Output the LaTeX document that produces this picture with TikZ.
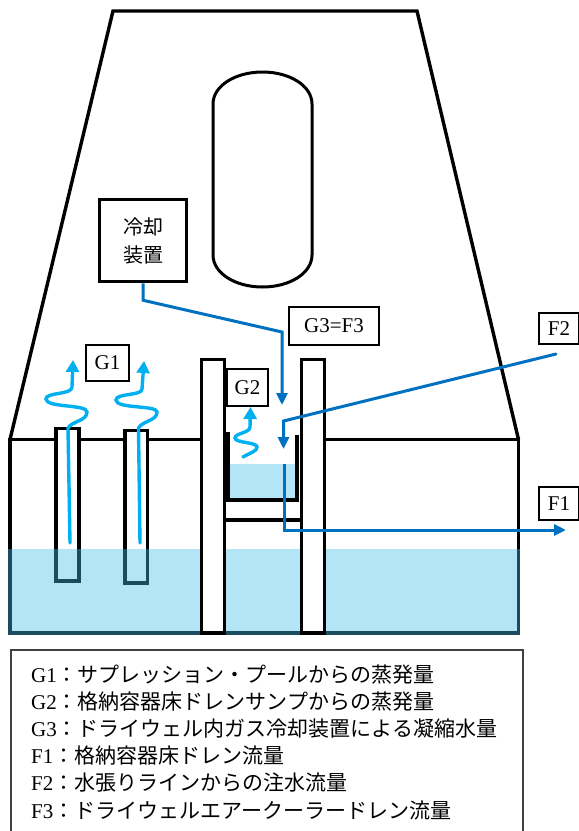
\documentclass[tikz,border=0pt]{standalone}
\usepackage{fontspec}
\setmainfont{Liberation Serif}
\newfontfamily\jp{Noto Sans CJK JP}
\usetikzlibrary{arrows.meta}
\definecolor{pipeblue}{RGB}{0,112,192}
\definecolor{steamblue}{RGB}{0,176,240}
\definecolor{poolblue}{RGB}{65,190,235}

\begin{document}
\begin{tikzpicture}[x=1pt, y=-1pt,
	wall/.style={line width=3.4pt, line join=miter},
	flow/.style={pipeblue, line width=3pt, -{Triangle[length=12pt, width=11pt]}},
	steam/.style={steamblue, line width=3.4pt, line cap=round, -{Triangle[length=12pt, width=13pt]}},
	water/.style={fill=poolblue, fill opacity=0.4},
	tag/.style={draw, line width=1.4pt, fill=white, inner sep=0pt, font=\fontsize{21}{21}\selectfont},
	legend/.style={anchor=base west, inner sep=0pt, font=\fontsize{21}{27}\selectfont}]
	\useasboundingbox (0,0) rectangle (579,831);

	% building and pool
	\draw[wall] (10,439.5) -- (113,11) -- (417,11) -- (518.5,439.5);
	\draw[wall] (201.5,439.5) -- (10,439.5) -- (10,633) -- (518.5,633) -- (518.5,439.5) -- (324.5,439.5);
	\draw[wall, fill=white] (56,428.5) rectangle (79,581);
	\draw[wall, fill=white] (125,430.5) rectangle (147.5,583);

	% evaporation from the pool
	\draw[steam] (70,543) -- (68,428) .. controls (72,421) and (87,421) .. (87,412)
		.. controls (87,404) and (46,408) .. (46,399) .. controls (46,392) and (72,395) .. (72,387) -- (73,360);
	\draw[steam] (140,543) -- (138.5,428) .. controls (142,421) and (157,421) .. (157,412)
		.. controls (157,405) and (116,409) .. (116,400) .. controls (116,393) and (142,396) .. (142,389) -- (144,361);

	\fill[water] (8.3,549) rectangle (520.2,634.7);

	% pedestal walls
	\draw[wall, fill=white] (201.5,359.5) rectangle (224.5,633);
	\draw[wall, fill=white] (301.5,359.5) rectangle (324.5,633);

	% floor drain sump
	\fill[water] (228,464) rectangle (296,498);
	\draw[wall, line width=4pt] (227.5,432) -- (227.5,500) -- (297,500) -- (297,435);
	\draw[wall] (226,520) -- (300,520);
	\draw[steam] (243,457) .. controls (252,452) and (257,451) .. (257,447)
		.. controls (257,442) and (235,443) .. (235,438) .. controls (235,433) and (250,433) .. (250,427) -- (250.5,407);

	% reactor vessel
	\draw[line width=3pt] (213,104) -- (213,255) .. controls (213,273) and (235,287) .. (262.5,287)
		.. controls (290,287) and (312,273) .. (312,255) -- (312,104)
		.. controls (312,86) and (290,72) .. (262.5,72) .. controls (235,72) and (213,86) .. (213,104) -- cycle;

	\node[draw, line width=3.5pt, minimum width=87pt, minimum height=82pt, align=center,
		font=\jp\fontsize{20}{28}\selectfont] (cooler) at (143,240.5) {冷却\\装置};

	\node[tag, minimum width=43pt, minimum height=36pt] (g1) at (107.5,363) {G1};
	\node[tag, minimum width=41pt, minimum height=37pt] (g2) at (247.5,387.5) {G2};
	\node[tag, minimum width=90pt, minimum height=38pt] (g3) at (334,326) {G3=F3};
	\node[tag, minimum width=40pt, minimum height=31pt] (f2) at (559,328.5) {F2};
	\node[tag, minimum width=40pt, minimum height=33pt] (f1) at (559,503.5) {F1};

	\coordinate (g3in) at (282,405);
	\coordinate (f2out) at (556,354);
	\coordinate (f2in) at (283.5,449);
	\coordinate (f1out) at (284,464);
	\coordinate (f1in) at (566,530);

	\draw[flow] (cooler.south) -- ++(0,17) -- (g3in |- 0,332) -- (g3in);
	\draw[flow, line cap=round] (f2out) -- (f2in |- 0,421) -- (f2in);
	\draw[flow] (f1out) -- (f1out |- f1in) -- (f1in);

	% legend
	\draw[line width=1.2pt, black!75] (11,840) -- (11,650) -- (523,650) -- (523,840);
	\node[legend] (l1) at (31,682) {G1{\jp ：サプレッション・プールからの蒸発量}};
	\node[legend] (l2) at (31,709.2) {G2{\jp ：格納容器床ドレンサンプからの蒸発量}};
	\node[legend] (l3) at (31,736.4) {G3{\jp ：ドライウェル内ガス冷却装置による凝縮水量}};
	\node[legend] (l4) at (31,763.6) {F1{\jp ：格納容器床ドレン流量}};
	\node[legend] (l5) at (31,790.8) {F2{\jp ：水張りラインからの注水流量}};
	\node[legend] (l6) at (31,818) {F3{\jp ：ドライウェルエアークーラードレン流量}};
\end{tikzpicture}
\end{document}
